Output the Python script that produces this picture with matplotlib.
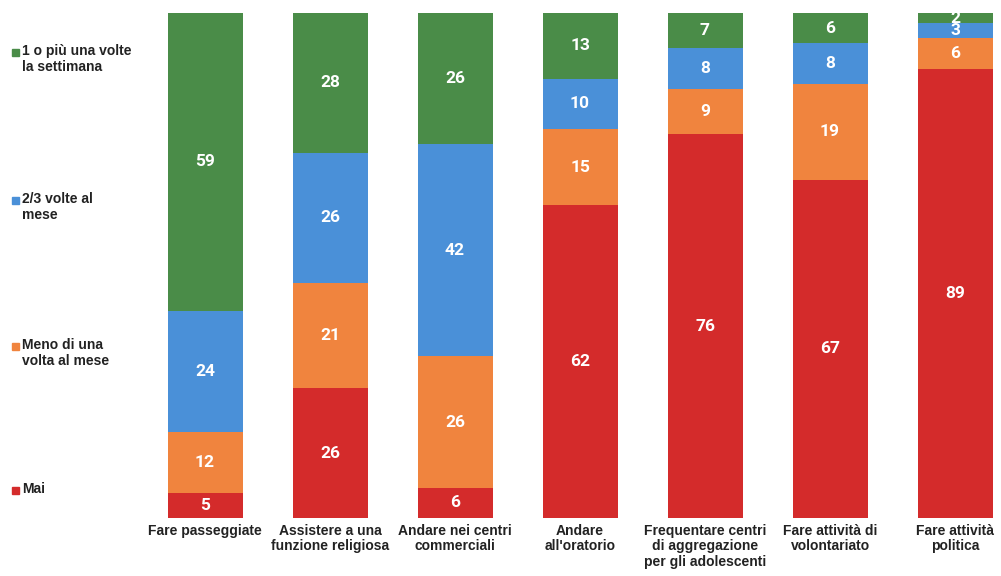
import matplotlib.pyplot as plt

plt.rcParams['font.family'] = ['Liberation Sans', 'DejaVu Sans']

categories = ['Fare passeggiate', 'Assistere a una\nfunzione religiosa', 'Andare nei centri\ncommerciali',
              'Andare\nall\'oratorio', 'Frequentare centri\ndi aggregazione\nper gli adolescenti',
              'Fare attività di\nvolontariato', 'Fare attività\npolitica']
mai = [5, 26, 6, 62, 76, 67, 89]
meno = [12, 21, 26, 15, 9, 19, 6]
due_tre = [24, 26, 42, 10, 8, 8, 3]
settimana = [59, 28, 26, 13, 7, 6, 2]

series = [mai, meno, due_tre, settimana]
names = ['Mai', 'Meno di una\nvolta al mese', '2/3 volte al\nmese', '1 o più una volte\nla settimana']
colors = ['#d42b2b', '#f0843e', '#4a90d8', '#4a8c48']

# bars are drawn as 100% stacked (one column sums to 101)
totals = [sum(t) for t in zip(*series)]

fig = plt.figure(figsize=(10.01, 5.76), dpi=100)
ax = fig.add_axes([142 / 1001, 1 - 518 / 576, 1 - 142 / 1001, (518 - 13) / 576])

x = list(range(len(categories)))
bottom = [0] * len(categories)
for vals, col in zip(series, colors):
    h = [v * 100 / t for v, t in zip(vals, totals)]
    ax.bar(x, h, bottom=bottom, width=0.6, color=col)
    for i, v in enumerate(vals):
        ax.text(i, bottom[i] + h[i] / 2, str(v), ha='center', va='center', color='white',
                fontsize=12.5, fontweight='bold', family='Roboto', clip_on=True)
    bottom = [b + v for b, v in zip(bottom, h)]

ax.set_xlim(-0.504, 6.368)
ax.set_ylim(0, 100)
ax.set_yticks([])
ax.set_xticks(x)
ax.set_xticklabels(categories, fontsize=10, fontweight='bold', color='#222222', linespacing=1.15)
ax.tick_params(axis='x', length=0, pad=4)
for s in ax.spines.values():
    s.set_visible(False)

# legend on the left
leg_y = [490, 346, 200, 52]
for name, col, y in zip(names, colors, leg_y):
    fig.patches.append(plt.Rectangle((12 / 1001, 1 - (y + 4) / 576), 7 / 1001, 7 / 576,
                                     transform=fig.transFigure, color=col))
    fig.text(22 / 1001, 1 - (y - 8) / 576, name, ha='left', va='top', fontsize=10,
             fontweight='bold', color='#222222', linespacing=1.15)

fig.savefig('out.png', dpi=100)
